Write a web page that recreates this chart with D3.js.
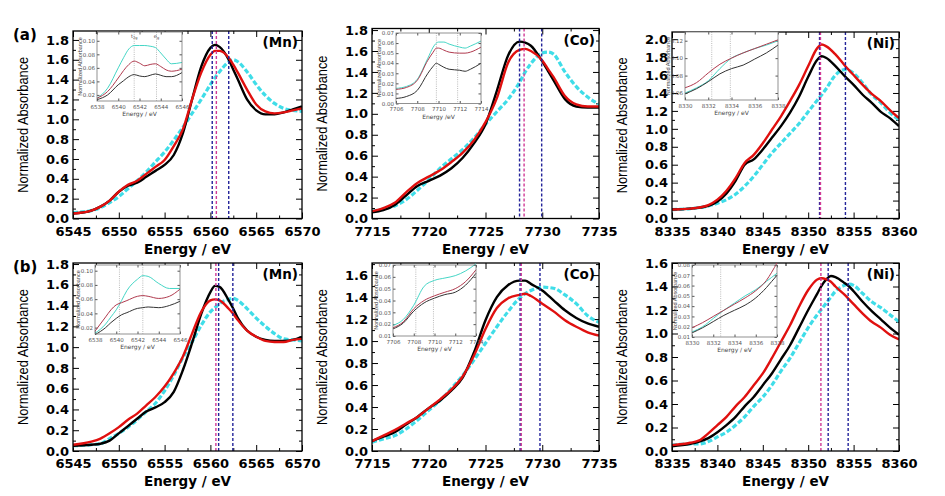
<!DOCTYPE html>
<html><head><meta charset="utf-8">
<script src="https://cdn.jsdelivr.net/npm/d3@7"></script>
<style>body{margin:0;background:#fff}svg{display:block}</style>
</head><body><svg id="c" width="945" height="496"></svg>
<script>
// ---------------- DATA ----------------
// (a) Mn
const mnA_E = [6545,6547,6548,6549,6550,6551,6552,6553,6554,6555,6556,6557,6558,6559,6560,6560.5,6561,6562,6562.5,6563,6564,6565,6566,6567,6568,6569,6570];
const mnA_black = [0.05,0.08,0.12,0.18,0.27,0.33,0.36,0.42,0.48,0.54,0.64,0.86,1.20,1.53,1.72,1.75,1.73,1.60,1.50,1.40,1.20,1.09,1.05,1.05,1.07,1.10,1.13];
const mnA_red = [0.05,0.08,0.12,0.18,0.27,0.34,0.38,0.45,0.52,0.59,0.73,0.90,1.20,1.47,1.65,1.69,1.69,1.62,1.55,1.47,1.30,1.15,1.08,1.06,1.07,1.09,1.11];
const mnA_cyan = [0.06,0.08,0.11,0.16,0.22,0.30,0.38,0.47,0.57,0.67,0.79,0.92,1.06,1.20,1.35,1.42,1.48,1.58,1.60,1.58,1.48,1.35,1.24,1.16,1.11,1.09,1.08];
const mnA_edges = [6560.2,6560.65,6562.0];
// (a) Co
const coA_E = [7715,7716,7717,7718,7719,7720,7721,7722,7723,7724,7725,7726,7727,7728,7728.5,7729,7730,7730.5,7731,7732,7733,7734,7735];
const coA_black = [0.06,0.08,0.13,0.22,0.31,0.36,0.41,0.48,0.58,0.72,0.90,1.22,1.56,1.69,1.68,1.65,1.50,1.41,1.32,1.14,1.07,1.06,1.06];
const coA_red = [0.07,0.10,0.15,0.25,0.34,0.40,0.46,0.54,0.63,0.75,0.92,1.15,1.49,1.61,1.62,1.60,1.51,1.43,1.35,1.17,1.09,1.07,1.07];
const coA_cyan = [0.07,0.09,0.12,0.18,0.27,0.37,0.48,0.57,0.66,0.77,0.90,1.02,1.14,1.30,1.40,1.48,1.58,1.59,1.57,1.40,1.26,1.16,1.09];
const coA_edges = [7728.0,7728.4,7729.95];
// (a) Ni
const niA_E = [8335,8337,8339,8340,8341,8342,8343,8344,8345,8346,8347,8348,8349,8350,8351,8351.5,8352,8353,8354,8355,8356,8357,8358,8359,8360];
const niA_black = [0.10,0.11,0.14,0.19,0.28,0.42,0.60,0.66,0.77,0.90,1.03,1.18,1.36,1.58,1.77,1.81,1.79,1.70,1.59,1.49,1.38,1.29,1.19,1.12,1.03];
const niA_red = [0.10,0.11,0.15,0.21,0.31,0.45,0.62,0.71,0.84,0.99,1.14,1.31,1.49,1.70,1.90,1.94,1.92,1.83,1.71,1.60,1.49,1.39,1.31,1.21,1.12];
const niA_cyan = [0.10,0.11,0.14,0.17,0.21,0.27,0.36,0.47,0.60,0.73,0.84,0.95,1.06,1.19,1.32,1.38,1.45,1.60,1.66,1.62,1.51,1.38,1.29,1.18,1.10];
const niA_edges = [8351.25,8351.35,8354.1];
// (b) Mn
const mnB_E = [6545,6547,6548,6549,6550,6551,6552,6553,6554,6555,6556,6557,6558,6559,6560,6560.5,6561,6562,6562.5,6563,6564,6565,6566,6567,6568,6569,6570];
const mnB_black = [0.05,0.06,0.07,0.10,0.17,0.24,0.31,0.38,0.42,0.47,0.57,0.78,1.04,1.32,1.53,1.59,1.58,1.45,1.37,1.28,1.16,1.10,1.07,1.06,1.06,1.07,1.10];
const mnB_red = [0.06,0.09,0.12,0.17,0.23,0.30,0.36,0.44,0.52,0.62,0.75,0.91,1.13,1.34,1.45,1.46,1.45,1.37,1.32,1.26,1.16,1.10,1.06,1.05,1.05,1.07,1.08];
const mnB_cyan = [0.05,0.06,0.07,0.12,0.17,0.23,0.30,0.38,0.46,0.58,0.73,0.90,1.05,1.21,1.34,1.38,1.42,1.46,1.47,1.45,1.37,1.28,1.20,1.13,1.08,1.07,1.06];
const mnB_edges = [6560.6,6560.9,6562.45];
// (b) Co
const coB_E = [7715,7716,7717,7718,7719,7720,7721,7722,7723,7724,7725,7726,7727,7728,7728.5,7729,7730,7731,7732,7733,7734,7735];
const coB_black = [0.09,0.13,0.17,0.24,0.31,0.39,0.46,0.55,0.67,0.90,1.19,1.40,1.51,1.55,1.55,1.52,1.46,1.37,1.28,1.21,1.16,1.13];
const coB_red = [0.09,0.14,0.19,0.25,0.31,0.39,0.47,0.56,0.68,0.87,1.11,1.30,1.39,1.42,1.43,1.41,1.34,1.27,1.19,1.13,1.08,1.05];
const coB_cyan = [0.08,0.11,0.14,0.20,0.28,0.37,0.46,0.57,0.69,0.83,0.98,1.13,1.27,1.39,1.43,1.46,1.49,1.48,1.42,1.34,1.23,1.17];
const coB_edges = [7728.05,7728.15,7729.8];
// (b) Ni
const niB_E = [8335,8337,8338,8339,8340,8341,8342,8343,8344,8345,8346,8347,8348,8349,8350,8351,8351.5,8352,8352.5,8353,8354,8354.5,8355,8356,8357,8358,8359,8360];
const niB_black = [0.04,0.06,0.08,0.11,0.16,0.22,0.29,0.38,0.46,0.56,0.66,0.78,0.90,1.05,1.20,1.34,1.41,1.46,1.49,1.48,1.43,1.40,1.36,1.27,1.19,1.12,1.05,0.99];
const niB_red = [0.05,0.07,0.09,0.15,0.22,0.29,0.38,0.46,0.56,0.66,0.79,0.93,1.07,1.23,1.37,1.46,1.47,1.46,1.44,1.40,1.33,1.29,1.25,1.17,1.10,1.05,0.99,0.95];
const niB_cyan = [0.05,0.06,0.06,0.08,0.12,0.16,0.22,0.29,0.38,0.46,0.56,0.68,0.79,0.92,1.05,1.16,1.21,1.26,1.31,1.36,1.41,1.42,1.41,1.34,1.27,1.22,1.16,1.10];
const niB_edges = [8351.4,8352.2,8354.4];

// Insets (pre-edge region)
const mnA_inE = [6538,6539,6540,6540.5,6541,6541.5,6542,6542.5,6543,6543.5,6544,6544.5,6545,6546];
const mnA_inCyan = [0.015,0.030,0.060,0.075,0.088,0.093,0.093,0.093,0.092,0.090,0.082,0.073,0.066,0.068];
const mnA_inRed = [0.015,0.025,0.045,0.056,0.065,0.070,0.067,0.063,0.065,0.066,0.062,0.057,0.055,0.058];
const mnA_inBlack = [0.013,0.020,0.035,0.041,0.047,0.050,0.048,0.047,0.049,0.051,0.049,0.047,0.047,0.053];
const mnA_inMarks = [6541.5,6543.6];

const coA_inE = [7706,7707,7708,7709,7709.5,7709.8,7710,7710.5,7711,7712,7712.5,7713,7714];
const coA_inCyan = [0.015,0.017,0.024,0.045,0.056,0.060,0.061,0.061,0.059,0.056,0.055,0.057,0.062];
const coA_inRed = [0.014,0.016,0.023,0.043,0.051,0.055,0.055,0.053,0.051,0.050,0.050,0.051,0.056];
const coA_inBlack = [0.005,0.007,0.013,0.030,0.037,0.040,0.039,0.036,0.034,0.033,0.032,0.034,0.040];
const coA_inMarks = [7709.8,7711.8];

const niA_inE = [8330,8331,8332,8333,8334,8335,8336,8337,8338];
const niA_inRed = [0.066,0.072,0.083,0.093,0.100,0.106,0.111,0.116,0.121];
const niA_inCyan = [0.060,0.066,0.074,0.088,0.100,0.106,0.111,0.115,0.120];
const niA_inBlack = [0.059,0.065,0.073,0.082,0.088,0.092,0.099,0.106,0.115];
const niA_inMarks = [8332.3,8333.9];

const mnB_inE = [6538,6539,6539.5,6540,6540.5,6541,6542,6542.5,6543,6544,6545,6546];
const mnB_inCyan = [0.012,0.025,0.035,0.045,0.058,0.072,0.088,0.093,0.092,0.082,0.075,0.075];
const mnB_inRed = [0.015,0.035,0.045,0.052,0.055,0.058,0.064,0.065,0.064,0.061,0.064,0.074];
const mnB_inBlack = [0.010,0.020,0.027,0.033,0.038,0.041,0.047,0.048,0.049,0.048,0.051,0.057];
const mnB_inMarks = [6540.3,6542.5];

const coB_inE = [7706,7707,7708,7709,7710,7711,7712,7713,7714];
const coB_inCyan = [0.019,0.024,0.036,0.052,0.057,0.059,0.061,0.065,0.071];
const coB_inRed = [0.017,0.022,0.033,0.040,0.044,0.047,0.050,0.056,0.066];
const coB_inBlack = [0.016,0.021,0.031,0.038,0.042,0.045,0.047,0.053,0.063];
const coB_inMarks = [7708.2,7709.9];

const niB_inE = [8330,8331,8332,8333,8334,8335,8336,8337,8337.5,8338];
const niB_inRed = [0.019,0.024,0.030,0.036,0.042,0.048,0.055,0.065,0.073,0.082];
const niB_inCyan = [0.015,0.020,0.028,0.036,0.043,0.050,0.056,0.064,0.068,0.072];
const niB_inBlack = [0.014,0.019,0.025,0.031,0.036,0.041,0.048,0.058,0.064,0.070];
const niB_inMarks = [8332.7];

const elementLabels = ["(Mn)","(Co)","(Ni)"];
const rowLabels = ["(a)","(b)"];
const xDomains = [[6545,6570],[7715,7735],[8335,8360]];
const inXDomains = [[6538,6546],[7706,7714],[8330,8338]];
const xTitle = "Energy / eV";
const yTitle = "Normalized Absorbance";

// ---------------- LAYOUT / STYLE ----------------
const NAVY="#23239a", MAG="#d03a96";
const colX = [[73,302],[372,599],[672,899]];
const rowBottom = [218.5,451];
const panels = [
 {row:0,col:0,E:mnA_E,k:mnA_black,r:mnA_red,c:mnA_cyan,edges:mnA_edges,ec:[NAVY,MAG,NAVY],top:31,yMax:1.89,yTop:1.8,
  ins:{box:[97,182,32,101],dom:[0.011,0.113],ticks:[0.02,0.04,0.06,0.08,0.10],fmt:".2f",E:mnA_inE,k:mnA_inBlack,r:mnA_inRed,c:mnA_inCyan,m:mnA_inMarks,xt:"Energy / eV",ann:true}},
 {row:0,col:1,E:coA_E,k:coA_black,r:coA_red,c:coA_cyan,edges:coA_edges,ec:[NAVY,MAG,NAVY],top:28.5,yMax:1.815,yTop:1.8,
  ins:{box:[396,481,33,103.5],dom:[0,0.07],ticks:[0,0.01,0.02,0.03,0.04,0.05,0.06,0.07],fmt:".2f",E:coA_inE,k:coA_inBlack,r:coA_inRed,c:coA_inCyan,m:coA_inMarks,xt:"Energy /eV"}},
 {row:0,col:2,E:niA_E,k:niA_black,r:niA_red,c:niA_cyan,edges:niA_edges,ec:[NAVY,MAG,NAVY],top:32,yMax:2.08,yTop:2.0,
  ins:{box:[685,778,32,100],dom:[0.052,0.130],ticks:[0.06,0.08,0.10,0.12],fmt:".2f",E:niA_inE,k:niA_inBlack,r:niA_inRed,c:niA_inCyan,m:niA_inMarks,xt:"Energy / eV"}},
 {row:1,col:0,E:mnB_E,k:mnB_black,r:mnB_red,c:mnB_cyan,edges:mnB_edges,ec:[MAG,NAVY,NAVY],top:263,yMax:1.81,yTop:1.8,
  ins:{box:[95,180,265,334],dom:[0.011,0.108],ticks:[0.02,0.04,0.06,0.08,0.10],fmt:".2f",E:mnB_inE,k:mnB_inBlack,r:mnB_inRed,c:mnB_inCyan,m:mnB_inMarks,xt:"Energy / eV"}},
 {row:1,col:1,E:coB_E,k:coB_black,r:coB_red,c:coB_cyan,edges:coB_edges,ec:[NAVY,MAG,NAVY],top:263,yMax:1.71,yTop:1.6,
  ins:{box:[393,476,265,336],dom:[0.01,0.07],ticks:[0.01,0.02,0.03,0.04,0.05,0.06,0.07],fmt:".2f",E:coB_inE,k:coB_inBlack,r:coB_inRed,c:coB_inCyan,m:coB_inMarks,xt:"Energy / eV"}},
 {row:1,col:2,E:niB_E,k:niB_black,r:niB_red,c:niB_cyan,edges:niB_edges,ec:[MAG,NAVY,NAVY],top:263,yMax:1.6,yTop:1.6,
  ins:{box:[692,777,265,337],dom:[0.01,0.08],ticks:[0.01,0.02,0.03,0.04,0.05,0.06,0.07,0.08],fmt:".2f",E:niB_inE,k:niB_inBlack,r:niB_inRed,c:niB_inCyan,m:niB_inMarks,xt:"Energy / eV"}}
];

const svg = d3.select("#c");
const BOLD = "'DejaVu Sans', Verdana, sans-serif";
const NARROW = "'Liberation Sans Narrow','Arial Narrow','Liberation Sans',Arial,sans-serif";

function styleAxis(g, size, fam, weight, color){
  g.attr("font-family", fam).attr("font-size", size).attr("font-weight", weight);
  g.select(".domain").remove();
  g.selectAll("text").attr("fill", color);
  g.selectAll("line").attr("stroke", color);
}

panels.forEach((p, idx) => {
  const [x0, x1] = colX[p.col];
  const y1 = rowBottom[p.row], y0 = p.top;
  const xd = xDomains[p.col];
  const x = d3.scaleLinear().domain(xd).range([x0, x1]);
  const y = d3.scaleLinear().domain([0, p.yMax]).range([y1, y0]);
  const g = svg.append("g");
  const cid = "clip" + idx;
  svg.append("clipPath").attr("id", cid).append("rect").attr("x", x0).attr("y", y0).attr("width", x1 - x0).attr("height", y1 - y0);

  const xMaj = d3.range(xd[0], xd[1] + 0.01, 5);
  const xMin = d3.range(xd[0] + 2.5, xd[1], 5);
  const yMaj = d3.range(0, p.yTop + 0.001, 0.2).map(v => +v.toFixed(2));
  const yMin = d3.range(0.1, p.yMax, 0.2).map(v => +v.toFixed(2));

  const ax = g.append("g").attr("transform", `translate(0,${y1})`)
    .call(d3.axisBottom(x).tickValues(xMaj).tickSize(-6).tickPadding(8).tickFormat(d3.format("d")));
  styleAxis(ax, 13, BOLD, "bold", "#000");
  const axm = g.append("g").attr("transform", `translate(0,${y1})`).call(d3.axisBottom(x).tickValues(xMin).tickSize(-3).tickFormat(""));
  styleAxis(axm, 10, BOLD, "normal", "#000");
  const axt = g.append("g").attr("transform", `translate(0,${y0})`).call(d3.axisTop(x).tickValues(xMaj).tickSize(-6).tickFormat(""));
  styleAxis(axt, 10, BOLD, "normal", "#000");
  const axtm = g.append("g").attr("transform", `translate(0,${y0})`).call(d3.axisTop(x).tickValues(xMin).tickSize(-3).tickFormat(""));
  styleAxis(axtm, 10, BOLD, "normal", "#000");
  const ay = g.append("g").attr("transform", `translate(${x0},0)`)
    .call(d3.axisLeft(y).tickValues(yMaj).tickSize(-6).tickPadding(4).tickFormat(d3.format(".1f")));
  styleAxis(ay, 13, BOLD, "bold", "#000");
  const aym = g.append("g").attr("transform", `translate(${x0},0)`).call(d3.axisLeft(y).tickValues(yMin).tickSize(-3).tickFormat(""));
  styleAxis(aym, 10, BOLD, "normal", "#000");
  const ar = g.append("g").attr("transform", `translate(${x1},0)`).call(d3.axisRight(y).tickValues(yMaj).tickSize(-6).tickFormat(""));
  styleAxis(ar, 10, BOLD, "normal", "#000");
  const arm = g.append("g").attr("transform", `translate(${x1},0)`).call(d3.axisRight(y).tickValues(yMin).tickSize(-3).tickFormat(""));
  styleAxis(arm, 10, BOLD, "normal", "#000");

  const mk = E => d3.line().x((d, i) => x(E[i])).y(d => y(d)).curve(d3.curveMonotoneX);
  const cg = g.append("g").attr("clip-path", `url(#${cid})`);
  cg.append("path").attr("d", mk(p.E)(p.c)).attr("fill", "none").attr("stroke", "#3fdde8").attr("stroke-width", 3.2).attr("stroke-dasharray", "5,2.2");
  cg.append("path").attr("d", mk(p.E)(p.k)).attr("fill", "none").attr("stroke", "#000").attr("stroke-width", 2.4);
  cg.append("path").attr("d", mk(p.E)(p.r)).attr("fill", "none").attr("stroke", "#e0100f").attr("stroke-width", 2.4);
  p.edges.forEach((e, i) => {
    g.append("line").attr("x1", x(e)).attr("x2", x(e)).attr("y1", y0).attr("y2", y1)
      .attr("stroke", p.ec[i]).attr("stroke-width", 1.4).attr("stroke-dasharray", "3,2");
  });
  g.append("rect").attr("x", x0).attr("y", y0).attr("width", x1 - x0).attr("height", y1 - y0)
    .attr("fill", "none").attr("stroke", "#000").attr("stroke-width", 1.3);

  g.append("text").attr("x", x1 - 4).attr("y", y0 + 16).attr("text-anchor", "end")
    .attr("font-family", BOLD).attr("font-weight", "bold").attr("font-size", 13.5).text(elementLabels[p.col]);
  g.append("text").attr("x", (x0 + x1) / 2).attr("y", y1 + 35).attr("text-anchor", "middle")
    .attr("font-family", BOLD).attr("font-weight", "bold").attr("font-size", 13.5).text(xTitle);
  g.append("text").attr("transform", `translate(${x0 - 51},${(y0 + y1) / 2}) rotate(-90)`)
    .attr("text-anchor", "middle").attr("dominant-baseline", "central")
    .attr("font-family", NARROW).attr("font-size", 15.5)
    .attr("textLength", 136).attr("lengthAdjust", "spacingAndGlyphs").text(yTitle);
  if (p.col === 0) {
    g.append("text").attr("x", 13).attr("y", y0 + 9).attr("font-family", BOLD).attr("font-weight", "bold")
      .attr("font-size", 15).text(rowLabels[p.row]);
  }

  // inset
  const s = p.ins;
  const [ix0, ix1, iy0, iy1] = s.box;
  const ixd = inXDomains[p.col];
  const ixs = d3.scaleLinear().domain(ixd).range([ix0, ix1]);
  const iys = d3.scaleLinear().domain(s.dom).range([iy1, iy0]);
  const ig = g.append("g");
  ig.append("rect").attr("x", ix0).attr("y", iy0).attr("width", ix1 - ix0).attr("height", iy1 - iy0).attr("fill", "#fff");
  const ixt = d3.range(ixd[0], ixd[1] + 0.01, 2);
  const a1 = ig.append("g").attr("transform", `translate(0,${iy1})`).call(d3.axisBottom(ixs).tickValues(ixt).tickSize(-2.5).tickPadding(4).tickFormat(d3.format("d")));
  styleAxis(a1, 5.5, BOLD, "normal", "#555");
  const a2 = ig.append("g").attr("transform", `translate(0,${iy0})`).call(d3.axisTop(ixs).tickValues(ixt).tickSize(-2.5).tickFormat(""));
  styleAxis(a2, 5.5, BOLD, "normal", "#555");
  const a3 = ig.append("g").attr("transform", `translate(${ix0},0)`).call(d3.axisLeft(iys).tickValues(s.ticks).tickSize(-2.5).tickPadding(2).tickFormat(d3.format(s.fmt)));
  styleAxis(a3, 5.5, BOLD, "normal", "#555");
  const a4 = ig.append("g").attr("transform", `translate(${ix1},0)`).call(d3.axisRight(iys).tickValues(s.ticks).tickSize(-2.5).tickFormat(""));
  styleAxis(a4, 5.5, BOLD, "normal", "#555");
  s.m.forEach(e => {
    ig.append("line").attr("x1", ixs(e)).attr("x2", ixs(e)).attr("y1", iy0).attr("y2", iy1)
      .attr("stroke", "#aaa").attr("stroke-width", 0.8).attr("stroke-dasharray", "1,1.2");
  });
  const il = E => d3.line().x((d, i) => ixs(E[i])).y(d => iys(d)).curve(d3.curveMonotoneX);
  ig.append("path").attr("d", il(s.E)(s.c)).attr("fill", "none").attr("stroke", "#45d6c6").attr("stroke-width", 1);
  ig.append("path").attr("d", il(s.E)(s.r)).attr("fill", "none").attr("stroke", "#b03a4e").attr("stroke-width", 1);
  ig.append("path").attr("d", il(s.E)(s.k)).attr("fill", "none").attr("stroke", "#333").attr("stroke-width", 1);
  ig.append("rect").attr("x", ix0).attr("y", iy0).attr("width", ix1 - ix0).attr("height", iy1 - iy0)
    .attr("fill", "none").attr("stroke", "#777").attr("stroke-width", 0.8);
  ig.append("text").attr("x", (ix0 + ix1) / 2).attr("y", iy1 + 15).attr("text-anchor", "middle")
    .attr("font-family", BOLD).attr("font-size", 6).attr("fill", "#444").text(s.xt);
  ig.append("text").attr("transform", `translate(${ix0 - 17},${(iy0 + iy1) / 2}) rotate(-90)`)
    .attr("text-anchor", "middle").attr("dominant-baseline", "central")
    .attr("font-family", NARROW).attr("font-size", 5.5).attr("fill", "#444").text(yTitle);
  if (s.ann) {
    const t1 = ig.append("text").attr("x", ixs(s.m[0])).attr("y", iy0 + 6).attr("text-anchor", "middle")
      .attr("font-family", BOLD).attr("font-size", 5).attr("fill", "#444");
    t1.append("tspan").text("t");
    t1.append("tspan").attr("font-size", 3.5).attr("dy", 1.2).text("2g");
    const t2 = ig.append("text").attr("x", ixs(s.m[1])).attr("y", iy0 + 6).attr("text-anchor", "middle")
      .attr("font-family", BOLD).attr("font-size", 5).attr("fill", "#444");
    t2.append("tspan").text("e");
    t2.append("tspan").attr("font-size", 3.5).attr("dy", 1.2).text("g");
  }
});
</script></body></html>
